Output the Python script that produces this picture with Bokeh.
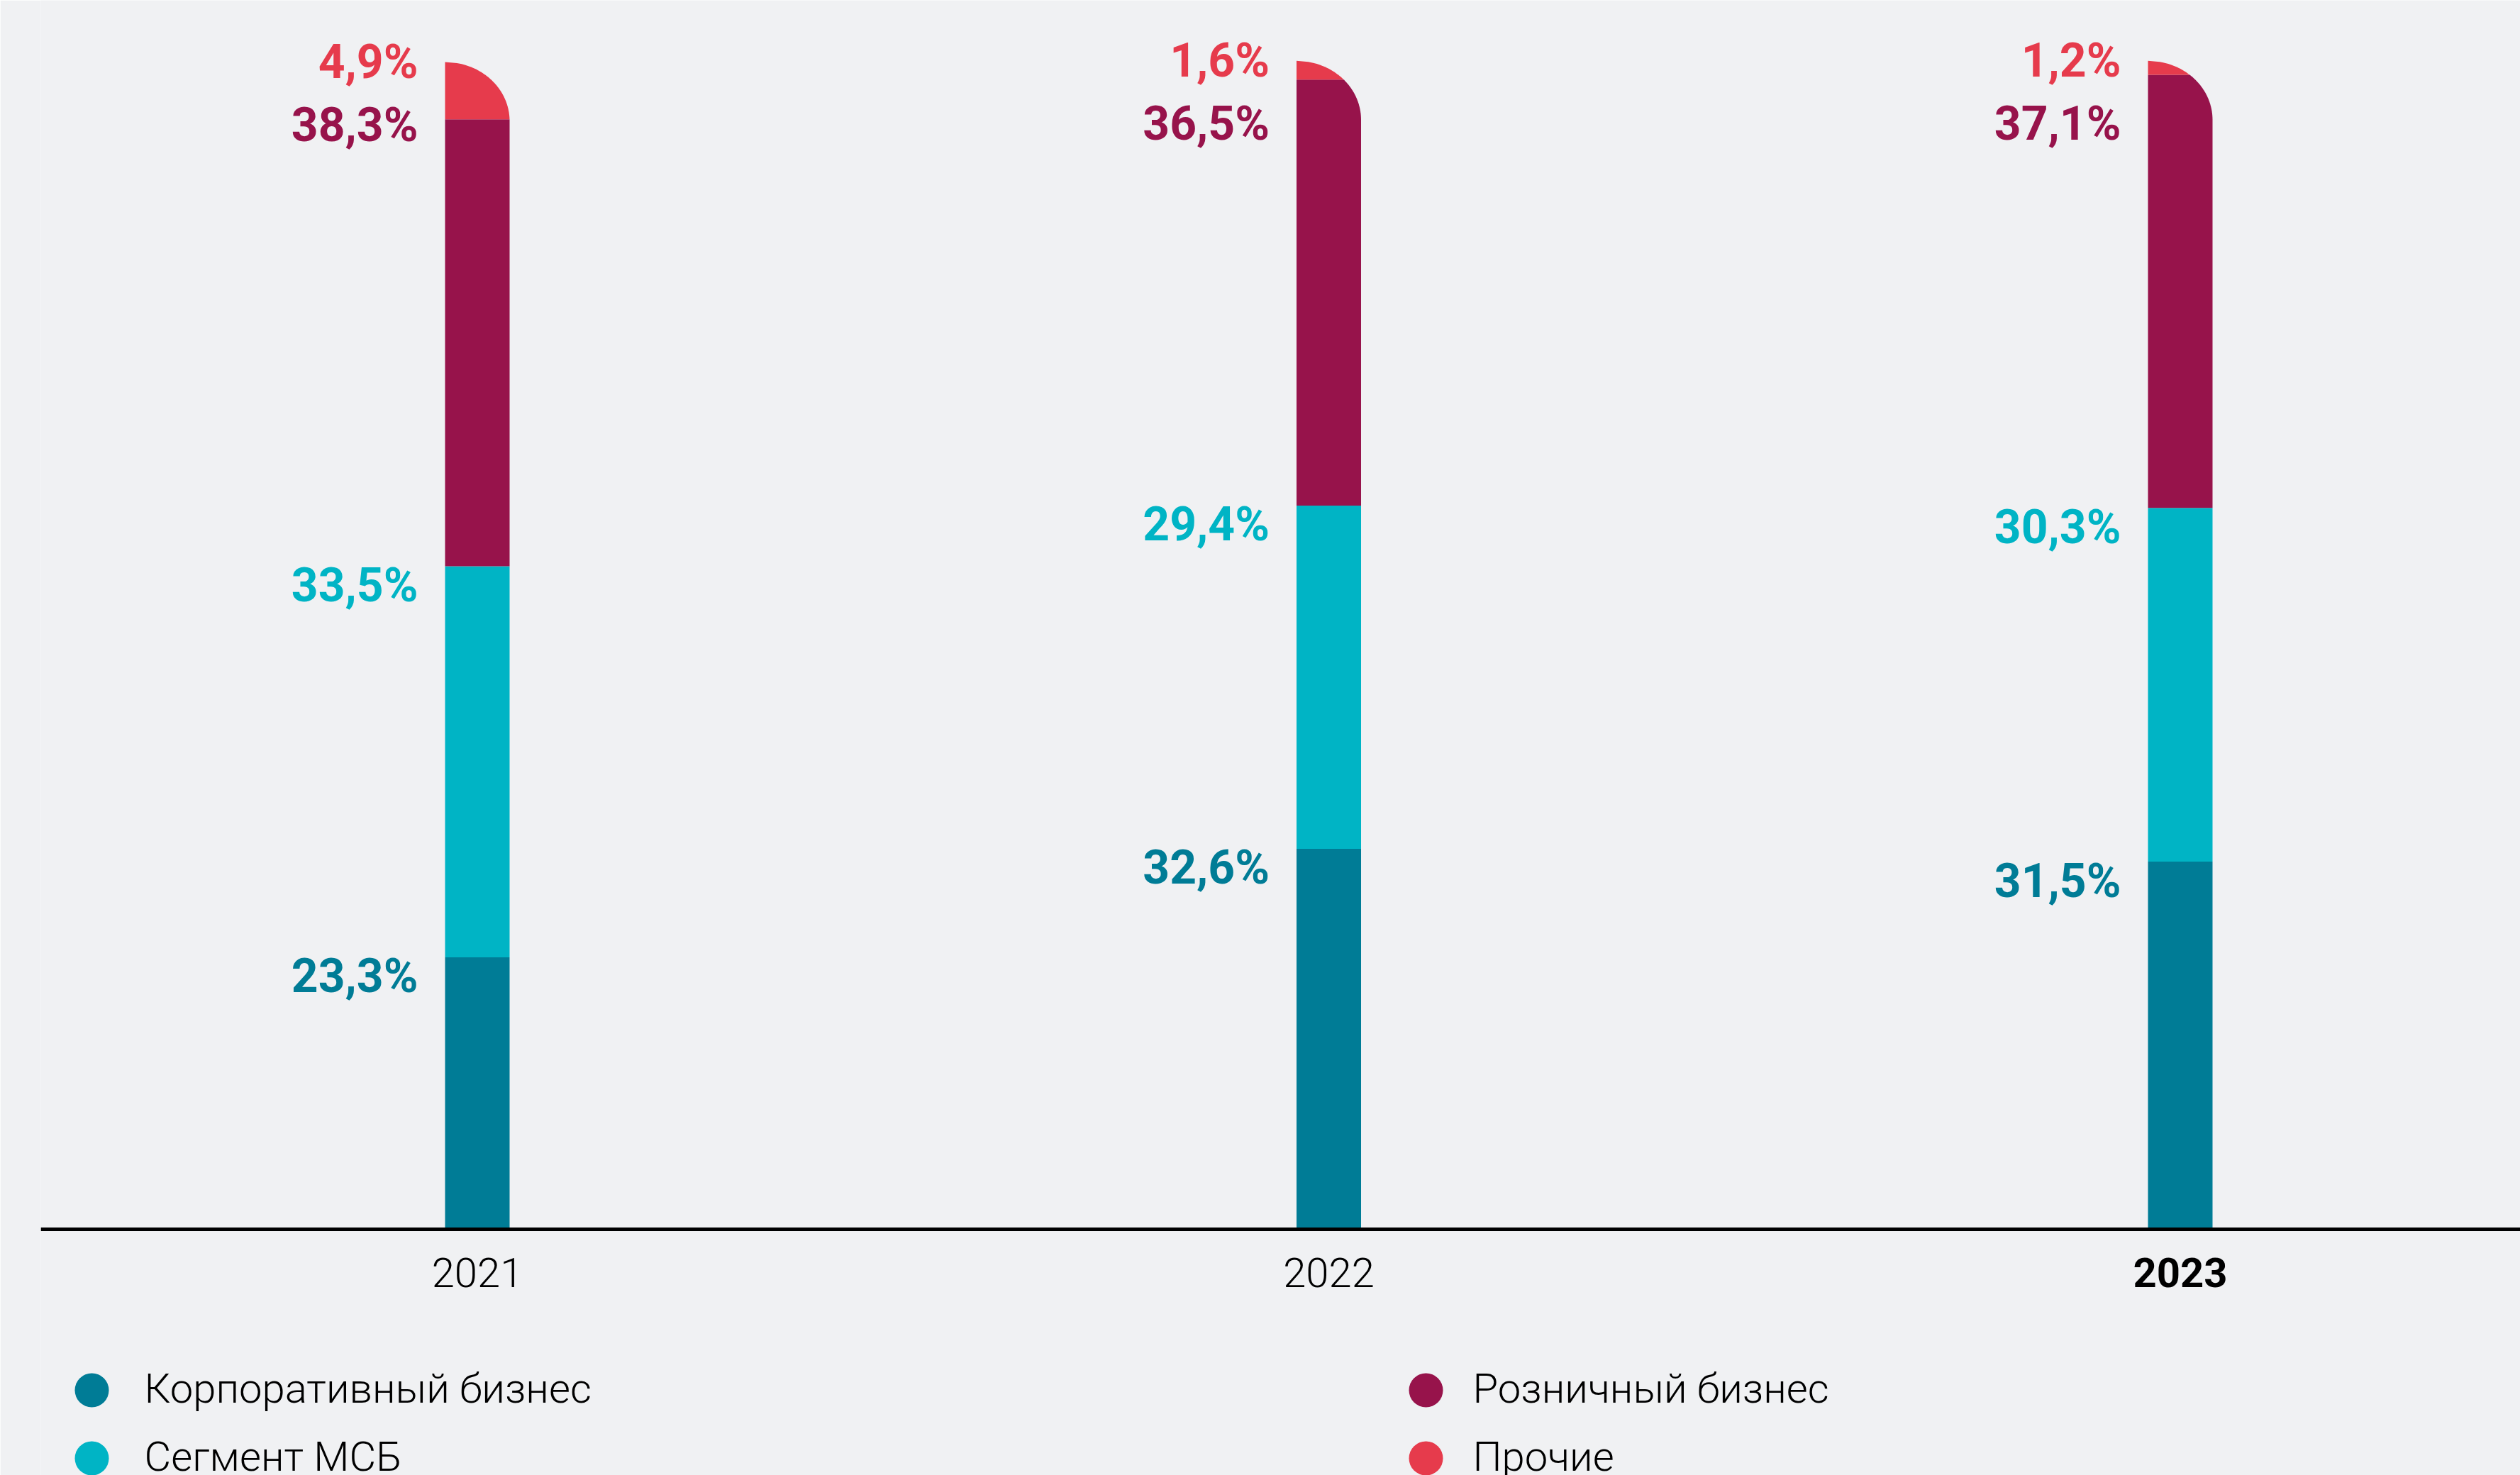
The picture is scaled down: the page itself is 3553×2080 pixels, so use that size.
import numpy as np
from bokeh.plotting import figure
from bokeh.models import Range1d, Span
from bokeh.core.properties import value
from bokeh.embed import file_html
from bokeh.resources import INLINE

# ---------------- data ----------------
years = ["2021", "2022", "2023"]
corporate = [23.3, 32.6, 31.5]
sme = [33.5, 29.4, 30.3]
retail = [38.3, 36.5, 37.1]
other = [4.9, 1.6, 1.2]
series_names = ["Корпоративный бизнес", "Сегмент МСБ", "Розничный бизнес", "Прочие"]
colors = ["#007C96", "#00B4C5", "#97134B", "#E63B4C"]

# ---------------- layout ----------------
BG = "#F0F1F3"
BORDER_L = 57
FRAME_W, FRAME_H = 3553 - BORDER_L, 2080
PX_X = 1200.5          # pixels per category step
X0_PX = 615.5          # frame x of first category
PX_Y = 16.46           # pixels per percentage point
BASE_PX = 1733         # frame y (from top) of baseline


def dx(px):
    return px / PX_X


def dy(px):
    return px / PX_Y


x_range = Range1d(-X0_PX / PX_X, (FRAME_W - X0_PX) / PX_X)
y_range = Range1d(-(FRAME_H - BASE_PX) / PX_Y, BASE_PX / PX_Y)

p = figure(frame_width=FRAME_W, frame_height=FRAME_H,
           x_range=x_range, y_range=y_range,
           x_axis_type=None, y_axis_type=None,
           toolbar_location=None, output_backend="svg",
           min_border_left=BORDER_L, min_border_right=0,
           min_border_top=0, min_border_bottom=0)
p.background_fill_color = BG
p.border_fill_color = BG
p.outline_line_color = None

xpos = np.arange(len(years), dtype=float)
hw = dx(45.5)          # half bar width
rx = 2 * hw            # corner radius, horizontal
ry = dy(83)            # corner radius, vertical

series = [corporate, sme, retail, other]
stack = np.array(series)
tops = np.cumsum(stack, axis=0)
bottoms = tops - stack
totals = tops[-1]


def seg_poly(xc, b, t, top):
    xl, xr = xc - hw, xc + hw
    yc = top - ry
    curve = np.linspace(top, yc, 60)
    ys = [t] + [y for y in curve if b < y < t] + [b]
    rxs, rys = [], []
    for y in ys:
        if y > yc:
            u = (y - yc) / ry
            x = xl + rx * np.sqrt(max(0.0, 1 - u * u))
        else:
            x = xr
        rxs.append(x)
        rys.append(y)
    return [xl, xl] + rxs, [b, t] + rys


for k, (name, col) in enumerate(zip(series_names, colors)):
    xs_all, ys_all = [], []
    for i in range(len(years)):
        xs, ys = seg_poly(xpos[i], bottoms[k][i], tops[k][i], totals[i])
        xs_all.append(xs)
        ys_all.append(ys)
    p.patches(xs=xs_all, ys=ys_all, fill_color=col, line_color=None)

p.add_layout(Span(location=0, dimension="width", line_color="black", line_width=5))

# value labels
fmt = lambda v: f"{v:.1f}".replace(".", ",") + "%"
label_y = [
    tops[0] - dy(27),
    tops[1] - dy(27),
    totals - dy(88.5),
    totals,
]
for k in range(4):
    p.text(x=xpos, y=label_y[k], text=[fmt(v) for v in series[k]],
           text_align="right", text_baseline="middle", x_offset=-83.5,
           text_color=colors[k], text_font=value("Roboto"),
           text_font_style="bold", text_font_size="66px")

# year labels
yr_y = -dy(61)
p.text(x=xpos[:-1], y=[yr_y] * (len(years) - 1), text=years[:-1],
       text_align="center", text_baseline="middle",
       text_color="black", text_font=value("Roboto Light"), text_font_size="58px")
p.text(x=xpos[-1:], y=[yr_y], text=years[-1:],
       text_align="center", text_baseline="middle",
       text_color="black", text_font=value("Roboto"), text_font_style="bold",
       text_font_size="58px")

# legend (two columns)
def px_x(page_x):
    return (page_x - BORDER_L - X0_PX) / PX_X


def px_y(page_y):
    return (BASE_PX - page_y) / PX_Y


leg_cx = [129, 129, 2010, 2010]
leg_tx = [203, 203, 2076, 2076]
leg_cy = [1960, 2056, 1960, 2056]
p.scatter(x=[px_x(v) for v in leg_cx], y=[px_y(v) for v in leg_cy],
          marker="circle", size=48, fill_color=colors, line_color=None)
p.text(x=[px_x(v) for v in leg_tx], y=[px_y(v - 3) for v in leg_cy],
       text=series_names, text_align="left", text_baseline="middle",
       text_color="black", text_font=value("Roboto Light"), text_font_size="58px")

open("out.html", "w").write(file_html(p, INLINE))
